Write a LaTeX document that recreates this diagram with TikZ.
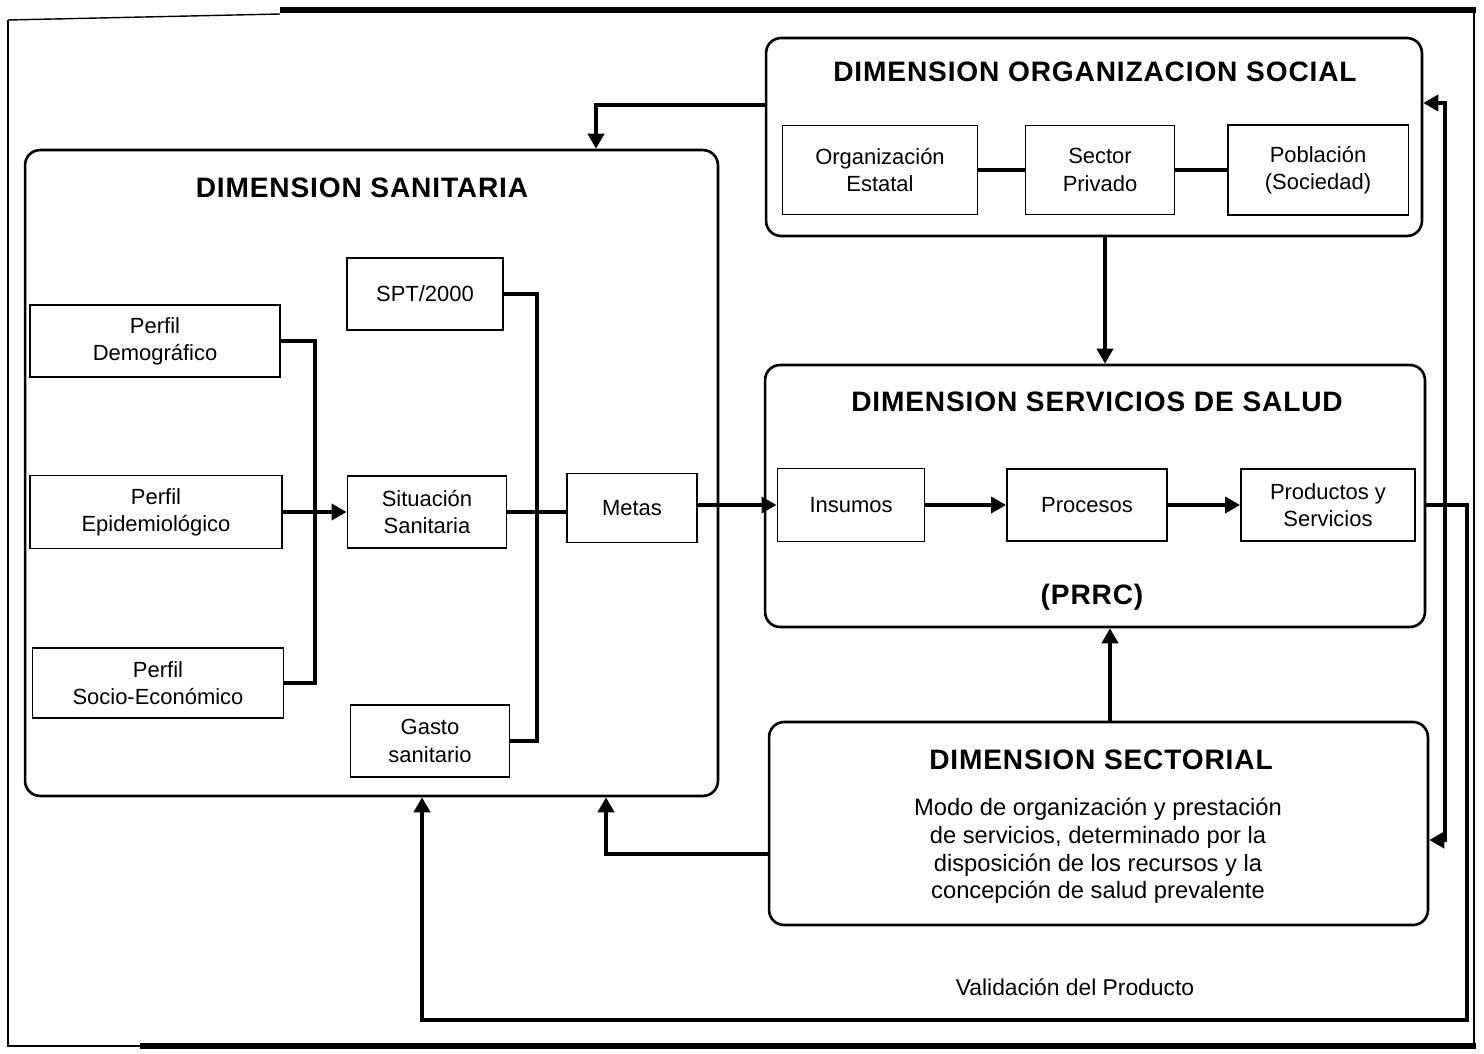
\documentclass[tikz,border=0pt]{standalone}
\usepackage{fontspec}
\setmainfont{Liberation Sans}
\usetikzlibrary{arrows.meta}

\begin{document}
\begin{tikzpicture}[x=0.02cm,y=-0.02cm,line width=2.2pt,>={Triangle[length=3mm,width=3.2mm]},
  box/.style={draw,line width=1.1pt,align=center,inner sep=0pt,font=\fontsize{12.5}{15.5}\selectfont},
  panel/.style={draw,line width=1.5pt,rounded corners=0.3cm,inner sep=0pt},
  title/.style={font=\fontsize{16}{19}\selectfont\bfseries\addfontfeature{LetterSpace=3}}]
\useasboundingbox (0,0) rectangle (1484,1054);
% page frame
\draw[line width=0.8pt] (8,20) -- (8,1046) -- (1474,1046) -- (1474,10);
\draw[line width=0.8pt] (8,20) -- (280,14);
\draw[line width=3pt] (280,10) -- (1476,10);
\draw[line width=3pt] (140,1046) -- (1476,1046);
% ================= panels =================
\node[panel,minimum width=13.86cm,minimum height=12.92cm] (san) at (371.5,473) {};
\node[panel,minimum width=13.12cm,minimum height=3.96cm] (org) at (1094,137) {};
\node[panel,minimum width=13.2cm,minimum height=5.24cm] (serv) at (1095,496) {};
\node[panel,minimum width=13.18cm,minimum height=4.06cm] (sec) at (1098.5,823.5) {};
\node[title] (santit) at (362,188) {DIMENSION SANITARIA};
\node[title] (orgtit) at (1095,72) {DIMENSION ORGANIZACION SOCIAL};
\node[title] (servtit) at (1097,402) {DIMENSION SERVICIOS DE SALUD};
\node[title] (sectit) at (1101,760) {DIMENSION SECTORIAL};
\node[title] (prrc) at (1092,597) {(PRRC)};
\node[align=center,font=\fontsize{13.5}{15.7}\selectfont] (sectxt) at (1098,851)
  {Modo de organización y prestación\\de servicios, determinado por la\\disposición de los recursos y la\\concepción de salud prevalente};
% ================= (a) dimension sanitaria =================
\node[box,minimum width=5cm,minimum height=1.44cm] (dem) at (155,341) {Perfil\\Demográfico};
\node[box,minimum width=5.04cm,minimum height=1.46cm] (epi) at (156,512) {Perfil\\Epidemiológico};
\node[box,minimum width=5.02cm,minimum height=1.4cm] (soc) at (158,683) {Perfil\\Socio-Económico};
\node[box,minimum width=3.12cm,minimum height=1.44cm] (spt) at (425,294) {SPT/2000};
\node[box,minimum width=3.18cm,minimum height=1.44cm] (sit) at (427,512) {Situación\\Sanitaria};
\node[box,minimum width=3.18cm,minimum height=1.44cm] (gas) at (430,741) {Gasto\\sanitario};
\node[box,minimum width=2.6cm,minimum height=1.38cm] (met) at (632,508) {Metas};
\coordinate (busl) at (315,512);
\coordinate (busr) at (537,512);
\draw (dem.east) -- (dem.east -| busl) -- (soc.east -| busl) -- (soc.east);
\draw[->] (epi.east) -- (sit.west);
\draw (spt.east) -- (spt.east -| busr) -- (gas.east -| busr) -- (gas.east);
\draw (sit.east) -- (sit.east -| met.west);
% ================= (b) organizacion social / servicios =================
\node[box,minimum width=3.9cm,minimum height=1.78cm] (oe) at (880,170) {Organización\\Estatal};
\node[box,minimum width=2.98cm,minimum height=1.78cm] (sp) at (1100,170) {Sector\\Privado};
\node[box,minimum width=3.62cm,minimum height=1.8cm] (pob) at (1318,170) {Población\\(Sociedad)};
\draw (oe) -- (sp) -- (pob);
\node[box,minimum width=2.94cm,minimum height=1.46cm] (ins) at (851,505) {Insumos};
\node[box,minimum width=3.2cm,minimum height=1.44cm] (pro) at (1087,505) {Procesos};
\node[box,minimum width=3.48cm,minimum height=1.44cm] (prd) at (1328,505) {Productos y\\Servicios};
\draw[->] (met.east |- ins.west) -- (ins.west);
\draw[->] (ins) -- (pro);
\draw[->] (pro) -- (prd);
% ================= feedback connectors =================
\coordinate (ctl) at (596,105);
\coordinate (cdn) at (1105,300);
\coordinate (cup) at (1110,680);
\coordinate (csec) at (606,854);
\coordinate (cr) at (1445,103);
\coordinate (crb) at (1445,840);
\coordinate (cval) at (1467,1020);
\coordinate (cvl) at (422,1020);
\draw[->] (org.west |- ctl) -- (ctl) -- (ctl |- san.north);
\draw[->] (org.south -| cdn) -- (serv.north -| cdn);
\draw[->] (sec.north -| cup) -- (serv.south -| cup);
\draw[->] (sec.west |- csec) -- (csec) -- (csec |- san.south);
\draw[<->] (org.east |- cr) -- (cr) -- (crb) -- (sec.east |- crb);
\draw[->] (serv.east |- prd) -- (prd -| cval) -- (cval) -- (cvl) -- (cvl |- san.south);
\node[font=\fontsize{13}{15}\selectfont] (val) at (1075,987) {Validación del Producto};
\end{tikzpicture}
\end{document}
